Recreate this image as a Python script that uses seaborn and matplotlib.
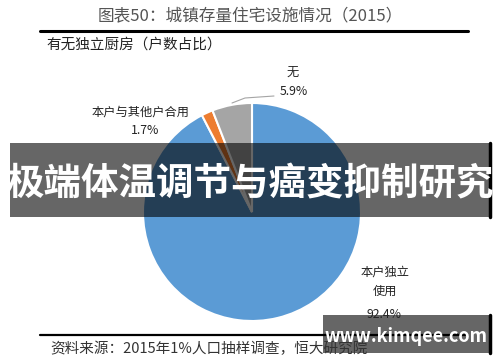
import matplotlib
matplotlib.use("Agg")
import matplotlib.pyplot as plt
import seaborn as sns
from matplotlib.patches import Rectangle
from matplotlib.lines import Line2D

sns.set_theme(style="white")
plt.rcParams['font.family'] = ['Noto Sans CJK SC', 'DejaVu Sans']

# Data
categories = ["本户独立\n使用", "本户与其他户合用", "无"]
shares = [92.4, 1.7, 5.9]
pct_labels = ["92.4%", "1.7%", "5.9%"]
colors = ["#5B9BD5", "#ED7D31", "#A5A5A5"]

title = "图表50：城镇存量住宅设施情况（2015）"
subtitle = "有无独立厨房（户数占比）"
source = "资料来源：2015年1%人口抽样调查，恒大研究院"
overlay = "极端体温调节与癌变抑制研究"
watermark = "www.kimqee.com"

W, H = 500, 362
fig = plt.figure(figsize=(W / 100, H / 100), dpi=100)
fig.patch.set_facecolor("white")

def fx(x):
    return x / W

def fy(y):
    return 1 - y / H

# Pie axes: center (252, 212), radius 109 px
cx, cy, r = 252, 212, 109
ax = fig.add_axes([fx(cx - r), fy(cy + r), 2 * r / W, 2 * r / H])
ax.pie(shares, colors=colors, startangle=90, counterclock=False,
       wedgeprops=dict(edgecolor="white", linewidth=1.5))
ax.set_xlim(-1, 1)
ax.set_ylim(-1, 1)
ax.set_aspect("auto")
ax.axis("off")

lab = dict(fontsize=8.8, color="#222222")

# Header
fig.text(fx(250), fy(17), title, ha="center", va="center", fontsize=12, color="#555555")
fig.add_artist(Line2D([fx(40), fx(468)], [fy(31), fy(31)], color="black", linewidth=2.2))
fig.text(fx(46), fy(45), subtitle, ha="left", va="center", fontsize=10.5, color="#222222")

# Labels
fig.text(fx(293), fy(72), "无", ha="center", va="center", **lab)
fig.text(fx(294), fy(91), pct_labels[2], ha="center", va="center", **lab)
fig.add_artist(Line2D([fx(232), fx(245), fx(274)], [fy(103), fy(98), fy(96)],
                      color="#A5A5A5", linewidth=0.8))
fig.text(fx(141), fy(112), categories[1], ha="center", va="center", **lab)
fig.text(fx(145), fy(131), pct_labels[1], ha="center", va="center", **lab)
fig.text(fx(385), fy(282), categories[0], ha="center", va="center",
         linespacing=1.6, **lab)
fig.text(fx(384), fy(314), pct_labels[0], ha="center", va="center", **lab)

# Footer
fig.add_artist(Line2D([fx(40), fx(465)], [fy(335), fy(335)], color="black", linewidth=1.6))
fig.text(fx(50), fy(349), source, ha="left", va="center", fontsize=10.5, color="#333333",
         style="italic")

# Overlay band
fig.add_artist(Rectangle((fx(10), fy(217)), fx(480), 74 / H, transform=fig.transFigure,
                         facecolor="black", alpha=0.6, edgecolor="none"))
fig.add_artist(Line2D([fx(490), fx(490)], [fy(143), fy(217)], color="black", linewidth=2.5))
fig.text(fx(250), fy(184), overlay, ha="center", va="center", fontsize=27,
         color="white", fontweight="bold")

# Watermark box
fig.add_artist(Rectangle((fx(323), fy(353)), fx(167), 38 / H, transform=fig.transFigure,
                         facecolor="black", alpha=0.6, edgecolor="none"))
fig.add_artist(Line2D([fx(490), fx(490)], [fy(315), fy(353)], color="black", linewidth=2.5))
fig.text(fx(406), fy(336), watermark, ha="center", va="center", fontsize=13,
         color="white", fontweight="bold")

fig.savefig("out.png", dpi=100, facecolor="white")
